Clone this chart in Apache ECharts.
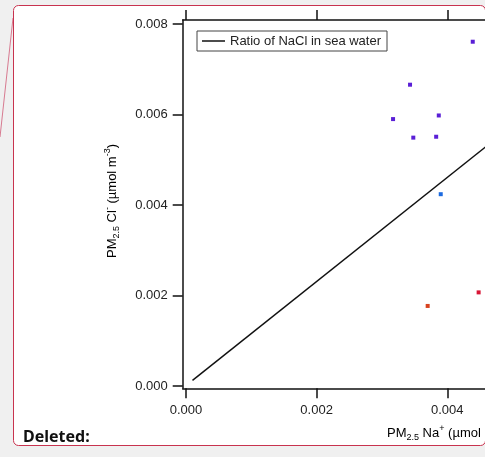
<!DOCTYPE html>
<html><head><meta charset="utf-8">
<script src="https://cdn.jsdelivr.net/npm/echarts@6/dist/echarts.min.js"></script>
<style>html,body{margin:0;padding:0;background:#f0f0f0;}#c{width:485px;height:457px;}</style>
</head><body><div id="c"></div>
<script>
var xTicks = [0, 0.002, 0.004];
var yTicks = [0, 0.002, 0.004, 0.006, 0.008];
var purplePts = [[0.00439,0.00761],[0.00343,0.00666],[0.00317,0.00590],[0.00387,0.00598],[0.00348,0.00549],[0.00383,0.00551]];
var bluePts = [[0.00390,0.00424]];
var orangePts = [[0.00370,0.00177]];
var redPts = [[0.00448,0.00207]];
var seaWaterLine = [[0.0001,0.000125],[0.005,0.00576]];
var lineName = 'Ratio of NaCl in sea water';

var FONT = "'Liberation Sans', Arial, sans-serif";
var chart = echarts.init(document.getElementById('c'));
var fmt = function(v){return v.toFixed(3);};
var axisCommon = function(pos, showLabel, ticks){
  return {
    type:'value', position:pos, min:-0.00005,
    axisLine:{show:true, onZero:false, lineStyle:{color:'#111', width:1.5}},
    axisTick:{show:true, inside:false, length:10, customValues:ticks, lineStyle:{color:'#111', width:1.5}},
    axisLabel:{show:showLabel, customValues:ticks, formatter:fmt, color:'#222', fontSize:13, fontFamily:FONT, margin:pos==='bottom'?16:15},
    splitLine:{show:false}
  };
};
var xb = axisCommon('bottom', true, xTicks); xb.max = 0.005;
var xt = axisCommon('top', false, xTicks); xt.max = 0.005;
var yl = axisCommon('left', true, yTicks); yl.max = 0.00809;
var yr = axisCommon('right', false, yTicks); yr.max = 0.00809;

var sub = {fontSize:9, fontFamily:FONT, color:'#222', verticalAlign:'bottom', lineHeight:18};
var sup = {fontSize:9, fontFamily:FONT, color:'#222', verticalAlign:'top', lineHeight:18};
var base = {fontSize:13, fontFamily:FONT, color:'#222', lineHeight:18};

chart.setOption({
  animation:false,
  grid:{left:182.7, top:20, width:329.9, height:368.3, show:false, containLabel:false, outerBoundsMode:'none'},
  xAxis:[xb, xt],
  yAxis:[yl, yr],
  legend:{
    data:[lineName], left:197, top:31, orient:'horizontal',
    borderColor:'#444', borderWidth:1, padding:[3,6,3,5],
    itemWidth:23, itemHeight:14, itemGap:5,
    icon:'path://M0,0 L0,0 M0,6.25 L23,6.25 L23,7.75 L0,7.75 Z M23,14 L23,14',
    itemStyle:{color:'#111'},
    textStyle:{color:'#222', fontSize:13, fontFamily:FONT}
  },
  series:[
    {type:'line', name:lineName, data:seaWaterLine, symbol:'none', lineStyle:{color:'#111', width:1.5}, itemStyle:{color:'#111'}, z:3},
    {type:'scatter', name:'purple', data:purplePts, symbol:'rect', symbolSize:4, itemStyle:{color:'#5a1fd6', opacity:1}},
    {type:'scatter', name:'blue', data:bluePts, symbol:'rect', symbolSize:4, itemStyle:{color:'#1d6be0', opacity:1}},
    {type:'scatter', name:'orange', data:orangePts, symbol:'rect', symbolSize:4, itemStyle:{color:'#d8431f', opacity:1}},
    {type:'scatter', name:'red', data:redPts, symbol:'rect', symbolSize:4, itemStyle:{color:'#d81535', opacity:1}}
  ],
  graphic:[
    {type:'line', z:-20, shape:{x1:13, y1:18, x2:0, y2:137}, style:{stroke:'#d77a90', lineWidth:1}},
    {type:'rect', z:-10, shape:{x:13.5, y:5.5, width:472, height:440, r:5}, style:{fill:'#ffffff', stroke:'#c8334f', lineWidth:1}},
    {type:'text', z:10, x:23, y:437, style:{text:'Deleted:', font:"bold 16px 'Noto Sans', 'Open Sans', sans-serif", fill:'#111', verticalAlign:'middle', align:'left'}},
    {type:'text', z:10, x:112, y:201, rotation:Math.PI/2,
      style:{text:'{a|PM}{s|2.5}{a| Cl}{p|-}{a| (µmol m}{p|-3}{a|)}', align:'center', verticalAlign:'middle', rich:{a:base, s:sub, p:sup}}},
    {type:'text', z:10, x:387, y:433,
      style:{text:'{a|PM}{s|2.5}{a| Na}{p|+}{a| (µmol m}{p|-3}{a|)}', align:'left', verticalAlign:'middle', rich:{a:base, s:sub, p:sup}}}
  ]
});
</script></body></html>
